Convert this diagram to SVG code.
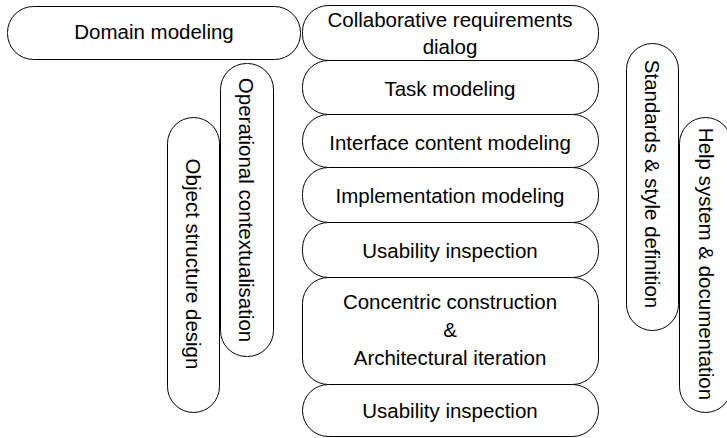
<svg xmlns="http://www.w3.org/2000/svg" width="727" height="438" viewBox="0 0 727 438">
<style>
.b{fill:#fff;stroke:#000;stroke-width:1}
.t{font-family:"Liberation Sans",Arial,sans-serif;font-size:20.5px;fill:#000;text-anchor:middle}
</style>
<rect width="727" height="438" fill="#fff"/>
<g id="connectors"></g>
<g id="domain-modeling"><rect class="b" x="7.5" y="6.5" width="293" height="53" rx="26" ry="26"/><text class="t" x="154" y="39">Domain modeling</text></g>
<g id="collaborative-requirements"><rect class="b" x="302.5" y="5.5" width="296" height="55" rx="26" ry="26"/><text class="t" x="450" y="27">Collaborative requirements</text><text class="t" x="450" y="54">dialog</text></g>
<g id="task-modeling"><rect class="b" x="302.5" y="60.5" width="296" height="54" rx="26" ry="26"/><text class="t" x="450" y="96">Task modeling</text></g>
<g id="interface-content-modeling"><rect class="b" x="302.5" y="114.5" width="296" height="53" rx="26" ry="26"/><text class="t" x="450" y="150">Interface content modeling</text></g>
<g id="implementation-modeling"><rect class="b" x="302.5" y="167.5" width="296" height="55" rx="26" ry="26"/><text class="t" x="450" y="203">Implementation modeling</text></g>
<g id="usability-inspection-1"><rect class="b" x="302.5" y="222.5" width="296" height="55" rx="26" ry="26"/><text class="t" x="450" y="258">Usability inspection</text></g>
<g id="concentric-construction"><rect class="b" x="302.5" y="277.5" width="296" height="107" rx="26" ry="26"/><text class="t" x="450" y="309">Concentric construction</text><text class="t" x="450" y="337">&amp;</text><text class="t" x="450" y="365">Architectural iteration</text></g>
<g id="usability-inspection-2"><rect class="b" x="302.5" y="384.5" width="296" height="52" rx="26" ry="26"/><text class="t" x="450" y="418">Usability inspection</text></g>
<g id="operational-contextualisation"><rect class="b" x="220.5" y="63.5" width="53" height="293" rx="26" ry="26"/><text class="t" transform="translate(239,210) rotate(90)">Operational contextualisation</text></g>
<g id="object-structure-design"><rect class="b" x="167.5" y="117.5" width="52" height="295" rx="26" ry="26"/><text class="t" transform="translate(185.5,264) rotate(90)">Object structure design</text></g>
<g id="standards-style-definition"><rect class="b" x="626.5" y="43.5" width="52" height="287" rx="26" ry="26"/><text class="t" transform="translate(644.5,184) rotate(90)">Standards &amp; style definition</text></g>
<g id="help-system-documentation"><rect class="b" x="679.5" y="117.5" width="52" height="295" rx="26" ry="26"/><text class="t" transform="translate(699,264) rotate(90)">Help system &amp; documentation</text></g>
</svg>
